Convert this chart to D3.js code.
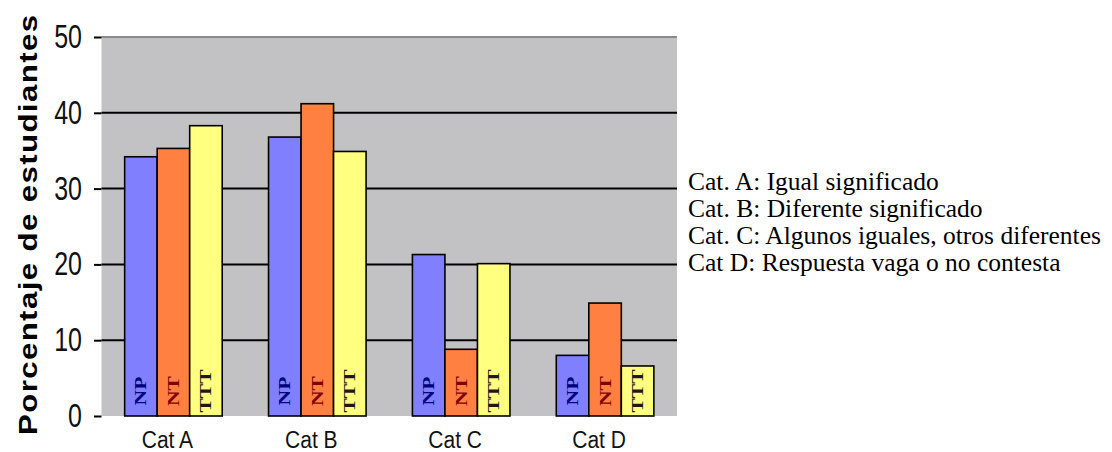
<!DOCTYPE html>
<html>
<head>
<meta charset="utf-8">
<script src="https://cdn.jsdelivr.net/npm/d3@7"></script>
<style>
  body { margin: 0; background: #fff; }
  svg { display: block; }
</style>
</head>
<body>
<svg id="chart" width="1112" height="452"></svg>
<script>
// Percentage of students per answer category, for three groups
const categories = ["Cat A", "Cat B", "Cat C", "Cat D"];
const seriesNames = ["NP", "NT", "TTT"];
const npValues = [34.2, 36.8, 21.3, 8.0];
const ntValues = [35.3, 41.2, 8.8, 14.9];
const tttValues = [38.3, 34.9, 20.1, 6.6];
const yTicks = [0, 10, 20, 30, 40, 50];
const yTitle = "Porcentaje de estudiantes";
const legendLines = [
  "Cat. A: Igual significado",
  "Cat. B: Diferente significado",
  "Cat. C: Algunos iguales, otros diferentes",
  "Cat D: Respuesta vaga o no contesta"
];

const seriesValues = [npValues, ntValues, tttValues];
const barFill = ["#8080ff", "#ff8040", "#ffff80"];
const labelFill = ["#000080", "#800000", "#1a1a1a"];

const plot = { left: 101.5, right: 677, top: 37, bottom: 416 };
const svg = d3.select("#chart");

const x = d3.scaleBand()
  .domain(categories)
  .range([plot.left, plot.right])
  .paddingInner(0.322)
  .paddingOuter(0.161);

const xs = d3.scaleBand()
  .domain(seriesNames)
  .range([0, x.bandwidth()])
  .padding(0);

const y = d3.scaleLinear().domain([0, 50]).range([plot.bottom, plot.top]);

// plot area
svg.append("rect")
  .attr("x", plot.left).attr("y", plot.top)
  .attr("width", plot.right - plot.left)
  .attr("height", plot.bottom - plot.top)
  .attr("fill", "#c2c1c4");

// horizontal gridlines
svg.append("g")
  .selectAll("line")
  .data(yTicks.filter(t => t > 0))
  .join("line")
  .attr("x1", plot.left).attr("x2", plot.right)
  .attr("y1", d => y(d)).attr("y2", d => y(d))
  .attr("stroke", d => d === 50 ? "#8a8a8a" : "#000")
  .attr("stroke-width", 2);

// y axis
const yAxis = svg.append("g")
  .attr("transform", `translate(${plot.left},0)`)
  .call(d3.axisLeft(y).tickValues(yTicks).tickSize(7.5).tickPadding(12));
yAxis.select(".domain").remove();
yAxis.selectAll(".tick line").attr("stroke", "#000").attr("stroke-width", 2);
yAxis.selectAll(".tick text")
  .attr("font-family", "Arial, 'Liberation Sans', sans-serif")
  .attr("font-size", 25)
  .attr("fill", "#111")
  .attr("transform", "scale(1,1.3)");

// y axis title, stretched along its length
svg.append("text")
  .attr("transform", "translate(37,225) rotate(-90) scale(1.2,1)")
  .attr("text-anchor", "middle")
  .attr("font-family", "Arial, 'Liberation Sans', sans-serif")
  .attr("font-weight", "bold")
  .attr("font-size", 26)
  .attr("textLength", 350)
  .attr("lengthAdjust", "spacing")
  .attr("fill", "#000")
  .text(yTitle);

// bars
const groups = svg.append("g")
  .selectAll("g")
  .data(categories)
  .join("g")
  .attr("transform", d => `translate(${x(d)},0)`);

groups.selectAll("rect")
  .data((c, ci) => seriesNames.map((s, si) => ({ s, si, v: seriesValues[si][ci] })))
  .join("rect")
  .attr("x", d => xs(d.s))
  .attr("y", d => y(d.v))
  .attr("width", xs.bandwidth())
  .attr("height", d => y(0) - y(d.v))
  .attr("fill", d => barFill[d.si])
  .attr("stroke", "#000")
  .attr("stroke-width", 1.6);

// series names written up the bottom of each bar
groups.selectAll("text")
  .data((c, ci) => seriesNames.map((s, si) => ({ s, si })))
  .join("text")
  .attr("transform", d => `translate(${xs(d.s) + xs.bandwidth() / 2},391) rotate(-90) scale(1.35,1)`)
  .attr("text-anchor", "middle")
  .attr("dominant-baseline", "central")
  .attr("font-family", "'Times New Roman', 'Liberation Serif', serif")
  .attr("font-weight", "bold")
  .attr("font-size", 16)
  .attr("fill", d => labelFill[d.si])
  .text(d => d.s);

// category axis
const xAxis = svg.append("g")
  .attr("transform", `translate(0,${plot.bottom})`)
  .call(d3.axisBottom(x).tickSize(0).tickPadding(0));
xAxis.select(".domain").remove();
xAxis.selectAll(".tick text")
  .attr("font-family", "Arial, 'Liberation Sans', sans-serif")
  .attr("font-size", 21)
  .attr("fill", "#111")
  .attr("dy", null)
  .attr("y", 0)
  .attr("transform", "translate(-6,31.5) scale(1,1.1)");

// category descriptions
svg.append("g")
  .selectAll("text")
  .data(legendLines)
  .join("text")
  .attr("transform", (d, i) => `translate(688,${190 + i * 27})`)
  .attr("font-family", "'Times New Roman', 'Liberation Serif', serif")
  .attr("font-size", 25.5)
  .attr("fill", "#000")
  .text(d => d);
</script>
</body>
</html>
